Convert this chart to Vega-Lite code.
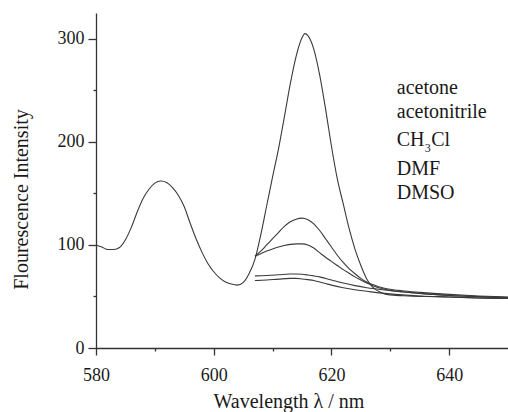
{
  "$schema": "https://vega.github.io/schema/vega-lite/v6.json",
  "width": 412,
  "height": 335,
  "autosize": {"type": "none"},
  "padding": {"left": 96, "top": 13, "right": 0, "bottom": 64},
  "background": "white",
  "config": {"view": {"stroke": null}, "font": "Liberation Serif, Times New Roman, serif"},
  "resolve": {"axis": {"x": "independent", "y": "independent"}},
  "datasets": {
    "spectra": [
      {"series": "s1", "wl": 580, "v": 100}, {"series": "s1", "wl": 581, "v": 98}, {"series": "s1", "wl": 582, "v": 95.5},
      {"series": "s1", "wl": 583, "v": 95.5}, {"series": "s1", "wl": 584, "v": 97.5}, {"series": "s1", "wl": 585, "v": 105},
      {"series": "s1", "wl": 586, "v": 117}, {"series": "s1", "wl": 587, "v": 132}, {"series": "s1", "wl": 588, "v": 145},
      {"series": "s1", "wl": 589, "v": 154}, {"series": "s1", "wl": 590, "v": 160}, {"series": "s1", "wl": 591, "v": 162},
      {"series": "s1", "wl": 592, "v": 160.5}, {"series": "s1", "wl": 593, "v": 155.5}, {"series": "s1", "wl": 594, "v": 148},
      {"series": "s1", "wl": 595, "v": 137}, {"series": "s1", "wl": 596, "v": 121}, {"series": "s1", "wl": 597, "v": 106},
      {"series": "s1", "wl": 598, "v": 93}, {"series": "s1", "wl": 599, "v": 82}, {"series": "s1", "wl": 600, "v": 74},
      {"series": "s1", "wl": 601, "v": 68}, {"series": "s1", "wl": 602, "v": 64}, {"series": "s1", "wl": 603, "v": 62},
      {"series": "s1", "wl": 604, "v": 61}, {"series": "s1", "wl": 605, "v": 63.5}, {"series": "s1", "wl": 606, "v": 72},
      {"series": "s1", "wl": 607, "v": 86}, {"series": "s1", "wl": 608, "v": 110}, {"series": "s1", "wl": 609, "v": 138},
      {"series": "s1", "wl": 610, "v": 166}, {"series": "s1", "wl": 611, "v": 193}, {"series": "s1", "wl": 612, "v": 224},
      {"series": "s1", "wl": 613, "v": 256}, {"series": "s1", "wl": 614, "v": 283}, {"series": "s1", "wl": 615, "v": 301},
      {"series": "s1", "wl": 615.5, "v": 305}, {"series": "s1", "wl": 616, "v": 303}, {"series": "s1", "wl": 617, "v": 290},
      {"series": "s1", "wl": 618, "v": 265}, {"series": "s1", "wl": 619, "v": 232}, {"series": "s1", "wl": 620, "v": 196},
      {"series": "s1", "wl": 621, "v": 164}, {"series": "s1", "wl": 622, "v": 140}, {"series": "s1", "wl": 623, "v": 116},
      {"series": "s1", "wl": 624, "v": 96}, {"series": "s1", "wl": 625, "v": 80}, {"series": "s1", "wl": 626, "v": 67},
      {"series": "s1", "wl": 627, "v": 59}, {"series": "s1", "wl": 628, "v": 55}, {"series": "s1", "wl": 629, "v": 52.5},
      {"series": "s1", "wl": 630, "v": 51.5}, {"series": "s1", "wl": 633, "v": 50.5}, {"series": "s1", "wl": 636, "v": 50},
      {"series": "s1", "wl": 640, "v": 49.5}, {"series": "s1", "wl": 645, "v": 48.5}, {"series": "s1", "wl": 650, "v": 48},

      {"series": "s2", "wl": 607, "v": 89}, {"series": "s2", "wl": 608, "v": 94}, {"series": "s2", "wl": 609, "v": 100},
      {"series": "s2", "wl": 610, "v": 106}, {"series": "s2", "wl": 611, "v": 112}, {"series": "s2", "wl": 612, "v": 118},
      {"series": "s2", "wl": 613, "v": 122.5}, {"series": "s2", "wl": 614, "v": 125}, {"series": "s2", "wl": 615, "v": 126},
      {"series": "s2", "wl": 616, "v": 124.5}, {"series": "s2", "wl": 617, "v": 120.5}, {"series": "s2", "wl": 618, "v": 114},
      {"series": "s2", "wl": 619, "v": 106}, {"series": "s2", "wl": 620, "v": 98}, {"series": "s2", "wl": 621, "v": 90},
      {"series": "s2", "wl": 622, "v": 83}, {"series": "s2", "wl": 623, "v": 77}, {"series": "s2", "wl": 624, "v": 72},
      {"series": "s2", "wl": 625, "v": 67.5}, {"series": "s2", "wl": 626, "v": 64}, {"series": "s2", "wl": 627, "v": 61.5},
      {"series": "s2", "wl": 628, "v": 59.5}, {"series": "s2", "wl": 630, "v": 57}, {"series": "s2", "wl": 632, "v": 55.5},
      {"series": "s2", "wl": 635, "v": 54}, {"series": "s2", "wl": 640, "v": 52}, {"series": "s2", "wl": 645, "v": 50.5},
      {"series": "s2", "wl": 650, "v": 49.5},

      {"series": "s3", "wl": 607, "v": 89}, {"series": "s3", "wl": 608, "v": 91.5}, {"series": "s3", "wl": 609, "v": 94},
      {"series": "s3", "wl": 610, "v": 96}, {"series": "s3", "wl": 611, "v": 98}, {"series": "s3", "wl": 612, "v": 99.5},
      {"series": "s3", "wl": 613, "v": 100.5}, {"series": "s3", "wl": 614, "v": 101}, {"series": "s3", "wl": 615, "v": 101},
      {"series": "s3", "wl": 616, "v": 100}, {"series": "s3", "wl": 617, "v": 97}, {"series": "s3", "wl": 618, "v": 92.5},
      {"series": "s3", "wl": 619, "v": 88}, {"series": "s3", "wl": 620, "v": 84}, {"series": "s3", "wl": 621, "v": 80},
      {"series": "s3", "wl": 622, "v": 76}, {"series": "s3", "wl": 623, "v": 72.5}, {"series": "s3", "wl": 624, "v": 69},
      {"series": "s3", "wl": 625, "v": 66}, {"series": "s3", "wl": 626, "v": 63}, {"series": "s3", "wl": 627, "v": 60.5},
      {"series": "s3", "wl": 628, "v": 58.5}, {"series": "s3", "wl": 630, "v": 56}, {"series": "s3", "wl": 632, "v": 54.5},
      {"series": "s3", "wl": 635, "v": 53}, {"series": "s3", "wl": 640, "v": 51}, {"series": "s3", "wl": 645, "v": 50},
      {"series": "s3", "wl": 650, "v": 49},

      {"series": "s4", "wl": 607, "v": 70}, {"series": "s4", "wl": 609, "v": 70.3}, {"series": "s4", "wl": 611, "v": 71},
      {"series": "s4", "wl": 613, "v": 71.8}, {"series": "s4", "wl": 614, "v": 71.8}, {"series": "s4", "wl": 615, "v": 71.5},
      {"series": "s4", "wl": 616, "v": 70.8}, {"series": "s4", "wl": 617, "v": 70}, {"series": "s4", "wl": 618, "v": 69},
      {"series": "s4", "wl": 619, "v": 67.5}, {"series": "s4", "wl": 620, "v": 66}, {"series": "s4", "wl": 622, "v": 63},
      {"series": "s4", "wl": 624, "v": 60.5}, {"series": "s4", "wl": 626, "v": 58.5}, {"series": "s4", "wl": 628, "v": 57},
      {"series": "s4", "wl": 630, "v": 55.5}, {"series": "s4", "wl": 635, "v": 53}, {"series": "s4", "wl": 640, "v": 51},
      {"series": "s4", "wl": 645, "v": 49.5}, {"series": "s4", "wl": 650, "v": 48.5},

      {"series": "s5", "wl": 607, "v": 65.5}, {"series": "s5", "wl": 609, "v": 66}, {"series": "s5", "wl": 611, "v": 66.8},
      {"series": "s5", "wl": 613, "v": 67.5}, {"series": "s5", "wl": 614, "v": 67.5}, {"series": "s5", "wl": 615, "v": 67},
      {"series": "s5", "wl": 616, "v": 66.3}, {"series": "s5", "wl": 617, "v": 65.5}, {"series": "s5", "wl": 618, "v": 64},
      {"series": "s5", "wl": 619, "v": 62.5}, {"series": "s5", "wl": 620, "v": 61}, {"series": "s5", "wl": 622, "v": 58.5},
      {"series": "s5", "wl": 624, "v": 56.5}, {"series": "s5", "wl": 626, "v": 55}, {"series": "s5", "wl": 628, "v": 53.5},
      {"series": "s5", "wl": 630, "v": 52.5}, {"series": "s5", "wl": 635, "v": 50.5}, {"series": "s5", "wl": 640, "v": 49.5},
      {"series": "s5", "wl": 645, "v": 48.5}, {"series": "s5", "wl": 650, "v": 48}
    ],
    "labels": [
      {"label": "acetone", "wl": 631.1, "v": 246.4},
      {"label": "acetonitrile", "wl": 631.1, "v": 223.1},
      {"label": "CH", "wl": 631.1, "v": 196},
      {"label": "Cl", "wl": 636.95, "v": 196},
      {"label": "DMF", "wl": 631.1, "v": 167.8},
      {"label": "DMSO", "wl": 631.1, "v": 144.5}
    ],
    "subscripts": [
      {"label": "3", "wl": 635.85, "v": 196}
    ]
  },
  "layer": [
    {
      "data": {"name": "spectra"},
      "mark": {"type": "line", "interpolate": "monotone", "color": "#3a3a3a", "strokeWidth": 1.1},
      "encoding": {
        "x": {
          "field": "wl", "type": "quantitative",
          "scale": {"domain": [580, 650], "nice": false, "zero": false},
          "axis": {
            "orient": "bottom",
            "title": "Wavelength λ / nm",
            "values": [580, 600, 620, 640],
            "tickSize": 7,
            "grid": false,
            "domainColor": "#333333", "domainWidth": 1.3,
            "tickColor": "#333333", "tickWidth": 1.3,
            "labelFont": "Liberation Serif, Times New Roman, serif", "labelFontSize": 18, "labelColor": "#1a1a1a",
            "labelPadding": 11, "labelFlush": false, "labelOverlap": false,
            "titleFont": "Liberation Serif, Times New Roman, serif", "titleFontSize": 20, "titleFontWeight": "normal", "titleColor": "#1a1a1a",
            "titleX": 192.5, "titleY": 59, "titleBaseline": "alphabetic", "titleAlign": "center"
          }
        },
        "y": {
          "field": "v", "type": "quantitative",
          "scale": {"domain": [0, 325], "nice": false},
          "axis": {
            "orient": "left",
            "title": "Flourescence Intensity",
            "values": [0, 100, 200, 300],
            "tickSize": 8,
            "grid": false,
            "domainColor": "#333333", "domainWidth": 1.3,
            "tickColor": "#333333", "tickWidth": 1.3,
            "labelFont": "Liberation Serif, Times New Roman, serif", "labelFontSize": 18, "labelColor": "#1a1a1a",
            "labelPadding": 4, "labelFlush": false, "labelOverlap": false,
            "titleFont": "Liberation Serif, Times New Roman, serif", "titleFontSize": 20, "titleFontWeight": "normal", "titleColor": "#1a1a1a",
            "titleX": -69, "titleY": 186, "titleBaseline": "alphabetic", "titleAlign": "center", "titleAngle": 270
          }
        },
        "detail": {"field": "series"}
      }
    },
    {
      "data": {"name": "labels"},
      "mark": {"type": "text", "align": "left", "baseline": "alphabetic", "font": "Liberation Serif, Times New Roman, serif", "fontSize": 20, "color": "#1a1a1a"},
      "encoding": {
        "x": {"field": "wl", "type": "quantitative", "axis": null},
        "y": {"field": "v", "type": "quantitative", "axis": null},
        "text": {"field": "label"}
      }
    },
    {
      "data": {"name": "subscripts"},
      "mark": {"type": "text", "align": "left", "baseline": "alphabetic", "font": "Liberation Serif, Times New Roman, serif", "fontSize": 12, "dy": 6, "color": "#1a1a1a"},
      "encoding": {
        "x": {
          "field": "wl", "type": "quantitative",
          "axis": {"orient": "bottom", "values": [590, 610, 630], "tickSize": 3, "tickColor": "#333333", "tickWidth": 1.3, "labels": false, "domain": false, "grid": false, "title": null}
        },
        "y": {
          "field": "v", "type": "quantitative",
          "axis": {"orient": "left", "values": [50, 150, 250], "tickSize": 3, "tickColor": "#333333", "tickWidth": 1.3, "labels": false, "domain": false, "grid": false, "title": null}
        },
        "text": {"field": "label"}
      }
    }
  ]
}
